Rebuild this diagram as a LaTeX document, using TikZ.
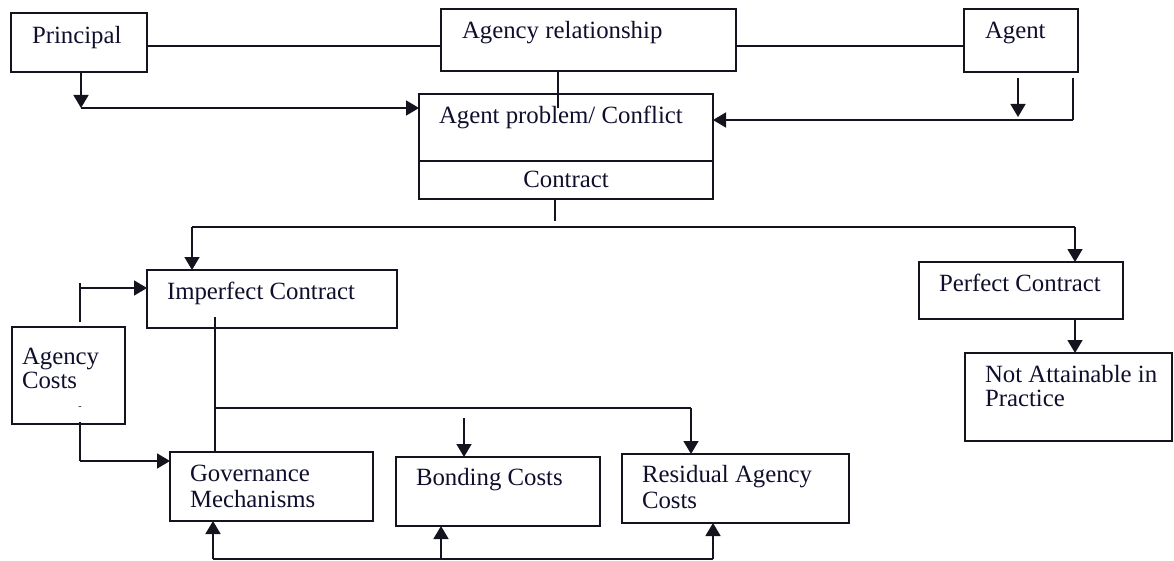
\documentclass[tikz,border=0pt]{standalone}
\usepackage{fontspec}
\setmainfont{Liberation Serif}
\usetikzlibrary{arrows.meta}
\definecolor{ink}{RGB}{20,20,30}
\definecolor{txtc}{RGB}{15,15,45}
\begin{document}
\begin{tikzpicture}[x=1pt,y=-1pt,
  box/.style={draw=ink,line width=1.6pt,rectangle,inner sep=0pt,outer sep=0pt,anchor=north west},
  lbl/.style={inner sep=0pt,outer sep=0pt,anchor=base west,text=txtc,font=\fontsize{24.8}{29}\selectfont},
  conn/.style={draw=ink,line width=1.6pt},
  arr/.style={conn,-{Triangle[width=15pt,length=13pt]}}]
\useasboundingbox (0,0) rectangle (1174,561);

% boxes
\node[box,minimum width=136,minimum height=59] (principal) at (11,13) {};
\node[box,minimum width=295,minimum height=62] (agrel) at (441,9) {};
\node[box,minimum width=114,minimum height=63] (agent) at (964,9) {};
\node[box,minimum width=294,minimum height=105] (problem) at (419,94) {};
\node[box,minimum width=250,minimum height=58] (imperfect) at (147,270) {};
\node[box,minimum width=204,minimum height=57] (perfect) at (919,262) {};
\node[box,minimum width=207,minimum height=88] (notatt) at (965,353) {};
\node[box,minimum width=113,minimum height=97] (agcosts) at (12,327) {};
\node[box,minimum width=203,minimum height=69] (gov) at (170,452) {};
\node[box,minimum width=204,minimum height=69] (bond) at (396,457) {};
\node[box,minimum width=227,minimum height=69] (resid) at (622,454) {};

% divider inside the problem box
\draw[conn] (problem.west |- 0,161) -- (problem.east |- 0,161);

% labels
\node[lbl] (tprincipal) at (32,44) {Principal};
\node[lbl] (tagrel) at (462,39) {Agency relationship};
\node[lbl] (tagent) at (985,39) {Agent};
\node[lbl] (tproblem) at (439,124) {Agent problem/ Conflict};
\node[lbl,anchor=base] (tcontract) at (566,188) {Contract};
\node[lbl] (timperfect) at (167,299) {Imperfect Contract};
\node[lbl] (tperfect) at (939,291) {Perfect Contract};
\node[lbl] (tnotatt1) at (985,382) {Not Attainable in};
\node[lbl] (tnotatt2) at (985,406) {Practice};
\node[lbl] (tagc1) at (22,364) {Agency};
\node[lbl] (tagc2) at (22,388) {Costs};
\node[lbl,anchor=base,font=\fontsize{10}{12}\selectfont] (tdot) at (80,409) {-};
\node[lbl] (tgov1) at (190,481) {Governance};
\node[lbl] (tgov2) at (190,507) {Mechanisms};
\node[lbl] (tbond) at (416,485) {Bonding Costs};
\node[lbl] (tres1) at (642,482) {Residual Agency};
\node[lbl] (tres2) at (642,508) {Costs};

% helper coordinates
\coordinate (relY) at (0,46);
\coordinate (relDrop) at (558,108);
\coordinate (pBend) at (81,108);
\coordinate (aTip) at (1018,117);
\coordinate (aTop) at (1018,78);
\coordinate (aBar) at (1073,78);
\coordinate (aBend) at (1073,120);
\coordinate (cStub) at (555,221);
\coordinate (cL) at (192,227);
\coordinate (cR) at (1075,227);
\coordinate (kTop) at (80,283);
\coordinate (kBend) at (80,288);
\coordinate (kLow) at (80,422);
\coordinate (kBend2) at (80,461);
\coordinate (iTop) at (215,317);
\coordinate (iJoin) at (215,408);
\coordinate (iRight) at (691,408);
\coordinate (bStart) at (464,418);
\coordinate (fL) at (213,559);
\coordinate (fM) at (441,559);
\coordinate (fR) at (713,559);

% top row links
\draw[conn] (principal.east |- relY) -- (agrel.west |- relY);
\draw[conn] (agrel.east |- relY) -- (agent.west |- relY);
\draw[conn] (agrel.south -| relDrop) -- (relDrop);

% principal and agent into the problem box
\draw[arr] (principal.south -| pBend) -- (pBend);
\draw[arr] (pBend) -- (problem.west |- pBend);
\draw[arr] (aTop) -- (aTip);
\draw[conn] (aBar) -- (aBend);
\draw[arr] (aBend) -- (problem.east |- aBend);

% contract split
\draw[conn] (problem.south -| cStub) -- (cStub);
\draw[conn] (cL) -- (cR);
\draw[arr] (cL) -- (imperfect.north -| cL);
\draw[arr] (cR) -- (perfect.north -| cR);
\draw[arr] (perfect.south -| cR) -- (notatt.north -| cR);

% agency costs links
\draw[conn] (agcosts.north -| kTop) ++(0,-5) -- (kTop);
\draw[arr] (kBend) -- (imperfect.west |- kBend);
\draw[conn] (kLow) -- (kBend2);
\draw[arr] (kBend2) -- (gov.west |- kBend2);

% imperfect contract branches
\draw[conn] (iTop) -- (gov.north -| iTop);
\draw[conn] (iJoin) -- (iRight);
\draw[arr] (iRight) -- (resid.north -| iRight);
\draw[arr] (bStart) -- (bond.north -| bStart);

% feedback line along the bottom
\draw[conn] (fL) -- (fR);
\draw[arr] (fL) -- (gov.south -| fL);
\draw[arr] (fM) -- (bond.south -| fM);
\draw[arr] (fR) -- (resid.south -| fR);
\end{tikzpicture}
\end{document}
